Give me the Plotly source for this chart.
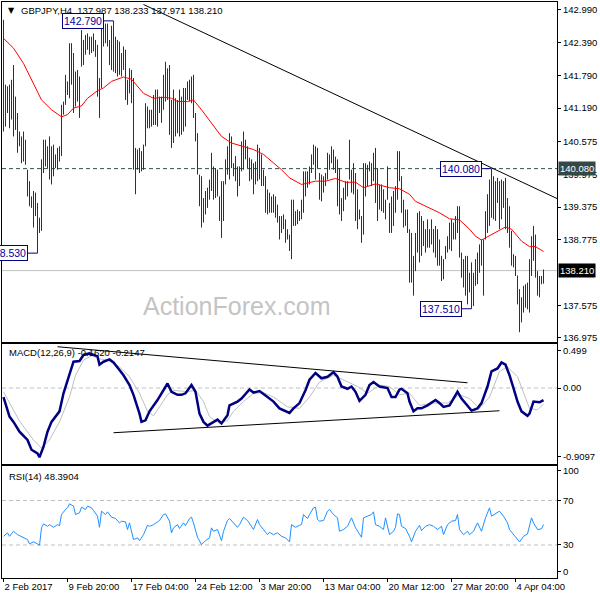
import plotly.graph_objects as go
from plotly.subplots import make_subplots

# GBPJPY H4, bar index 0 = 2 Feb 2017 12:00 (one index per 4h bar)
bar_high = [
    142.81, 141.62, 141.59, 141.62, 141.71, 141.98, 141.40, 141.10, 140.76, 140.67,
    140.76, 140.61, 140.06, 139.85, 139.57, 139.67, 139.64, 139.45, 139.18, 140.25,
    140.61, 140.61, 140.49, 140.67, 140.49, 140.52, 140.34, 140.46, 140.49, 141.25,
    141.31, 141.80, 141.68, 142.38, 142.38, 142.20, 141.86, 141.89, 141.77, 142.62,
    142.44, 142.53, 142.56, 142.50, 142.50, 142.56, 142.44, 142.35, 141.74, 142.71,
    142.74, 142.74, 142.74, 142.44, 142.70, 142.79, 142.50, 142.44, 142.41, 142.20,
    142.32, 142.26, 141.71, 141.92, 141.89, 141.74, 140.46, 140.43, 140.46, 140.40,
    140.52, 141.28, 141.22, 141.16, 141.16, 141.43, 141.53, 141.53, 141.40, 141.40,
    141.80, 142.04, 141.92, 141.98, 141.34, 141.53, 141.37, 141.34, 141.53, 141.40,
    141.56, 141.56, 141.68, 141.71, 141.77, 141.80, 141.10, 140.73, 139.97, 139.94,
    139.54, 139.67, 139.73, 139.88, 140.37, 140.12, 140.09, 140.06, 139.57, 139.85,
    139.85, 140.25, 140.49, 140.73, 140.67, 140.18, 140.31, 140.12, 140.12, 140.58,
    140.76, 140.61, 140.49, 140.28, 140.25, 140.18, 140.21, 140.52, 140.46, 140.34,
    140.06, 139.94, 139.70, 139.64, 139.57, 139.61, 139.57, 139.42, 139.21, 139.21,
    139.24, 139.15, 138.97, 138.87, 139.51, 139.51, 139.30, 139.33, 139.30, 139.51,
    140.03, 140.03, 140.03, 140.12, 140.34, 140.52, 140.49, 140.46, 140.00, 139.97,
    139.94, 140.00, 140.37, 140.34, 140.49, 140.43, 140.30, 140.25, 140.09, 139.54,
    139.73, 139.85, 139.85, 140.61, 140.06, 140.18, 140.00, 139.70, 139.33, 139.21,
    140.18, 140.18, 140.15, 140.21, 140.18, 140.37, 140.46, 140.09, 139.79, 139.79,
    139.70, 139.51, 140.12, 139.45, 139.57, 139.67, 139.76, 140.40, 140.40, 139.94,
    139.51, 139.33, 139.33, 138.97, 138.90, 138.48, 138.90, 139.27, 139.30, 139.21,
    139.12, 138.97, 139.15, 138.97, 139.15, 138.97, 139.03, 138.97, 138.78, 138.48,
    138.42, 138.66, 138.84, 139.09, 139.15, 139.09, 139.21, 139.39, 139.39, 138.54,
    138.42, 138.48, 138.48, 138.17, 138.36, 138.17, 138.42, 138.54, 138.69, 138.78,
    138.78, 139.30, 139.61, 139.88, 140.08, 139.94, 139.85, 139.91, 139.85, 139.88,
    139.85, 139.91, 139.54, 139.39, 138.94, 138.51, 138.48, 138.12, 137.87, 137.72,
    137.93, 137.96, 137.99, 138.42, 138.84, 139.03, 138.87, 138.20, 138.11, 138.11,
    138.23,
]
bar_low = [
    140.76, 140.85, 141.10, 140.82, 140.98, 140.67, 140.79, 140.37, 140.49, 140.18,
    140.21, 140.15, 139.57, 139.39, 139.36, 139.00, 139.21, 138.53, 138.90, 138.94,
    140.00, 140.12, 140.09, 139.88, 139.79, 139.94, 140.09, 140.06, 140.21, 140.31,
    141.07, 141.25, 141.43, 141.37, 141.62, 141.10, 141.22, 141.31, 141.01, 141.95,
    141.98, 142.17, 142.26, 142.17, 142.20, 142.23, 142.13, 141.40, 141.01, 141.56,
    142.32, 142.38, 142.32, 141.98, 141.89, 141.86, 141.83, 141.77, 141.80, 141.77,
    141.89, 141.34, 141.25, 141.46, 141.28, 140.06, 139.61, 140.06, 140.00, 140.03,
    140.06, 140.49, 140.82, 140.82, 140.85, 140.88, 140.88, 140.85, 141.10, 140.92,
    141.16, 141.31, 141.34, 140.70, 140.46, 140.55, 140.67, 140.73, 140.67, 140.70,
    140.76, 140.85, 141.34, 141.31, 141.28, 141.01, 140.58, 139.97, 139.39, 139.00,
    139.09, 139.24, 139.36, 139.51, 139.67, 139.51, 139.54, 139.57, 139.12, 138.81,
    139.12, 139.79, 139.97, 139.88, 140.09, 139.94, 139.85, 139.57, 139.76, 140.03,
    140.06, 140.25, 140.09, 139.85, 139.88, 139.61, 139.79, 139.85, 139.88, 139.76,
    139.76, 139.27, 139.24, 139.27, 139.27, 139.27, 139.18, 139.09, 138.78, 138.90,
    138.97, 138.72, 138.78, 138.57, 138.42, 139.03, 139.03, 139.06, 139.12, 139.15,
    139.27, 139.57, 139.73, 139.79, 140.00, 140.15, 139.88, 140.09, 139.51, 139.48,
    139.64, 139.76, 139.88, 140.06, 140.18, 140.06, 140.00, 139.39, 139.24, 139.12,
    139.30, 139.51, 139.57, 139.88, 139.64, 139.61, 139.12, 138.97, 139.15, 138.72,
    138.87, 139.57, 139.76, 140.03, 139.76, 139.85, 139.45, 139.12, 139.33, 139.30,
    139.27, 139.15, 139.51, 138.90, 138.90, 139.03, 139.27, 139.51, 139.85, 139.27,
    139.00, 139.03, 138.90, 137.99, 137.99, 137.75, 138.20, 138.54, 138.36, 138.48,
    138.66, 138.54, 138.63, 138.63, 138.69, 138.54, 138.45, 138.30, 138.30, 138.02,
    138.05, 138.42, 138.54, 138.60, 138.57, 138.78, 138.78, 138.90, 138.45, 138.08,
    137.90, 137.75, 137.59, 137.81, 137.51, 137.56, 137.93, 137.96, 138.17, 138.30,
    137.75, 138.78, 138.90, 139.03, 139.18, 139.15, 139.12, 139.45, 138.97, 139.15,
    139.36, 138.97, 138.90, 138.63, 138.30, 138.27, 138.11, 137.59, 137.08, 137.26,
    137.44, 137.53, 137.50, 137.44, 138.11, 138.39, 138.08, 137.75, 137.72, 137.96,
    137.97,
]

# moving average (red)
ma_idx = [0, 5, 10, 15, 19, 24, 29, 32, 35, 39, 42, 47, 50, 54, 57, 60, 64, 67, 70, 75,
          80, 84, 87, 92, 95, 99, 104, 109, 114, 119, 125, 130, 135, 139, 143, 149, 156, 161, 166, 171,
          176, 180, 186, 193, 198, 203, 206, 213, 218, 223, 228, 233, 236, 239, 244, 251, 254, 259, 263, 266,
          270]
ma_val = [142.47, 142.29, 142.01, 141.65, 141.34, 141.16, 141.03, 141.07, 141.19, 141.23,
          141.37, 141.51, 141.56, 141.68, 141.72, 141.76, 141.72, 141.59, 141.46, 141.37,
          141.39, 141.37, 141.31, 141.31, 141.34, 141.16, 140.92, 140.67, 140.55, 140.49,
          140.43, 140.34, 140.18, 140.06, 139.91, 139.79, 139.85, 139.85, 139.90, 139.83,
          139.83, 139.73, 139.80, 139.73, 139.71, 139.61, 139.48, 139.36, 139.27, 139.16,
          139.14, 138.97, 138.84, 138.77, 138.87, 139.01, 138.97, 138.75, 138.65, 138.65,
          138.56]

trend_idx = [70, 278]
trend_val = [143.09, 139.51]

# MACD(12,26,9)
macd_idx = [0, 3, 5, 8, 12, 14, 17, 18, 20, 22, 24, 28, 30, 33, 35, 38, 40, 43, 45, 47,
            48, 50, 53, 55, 58, 60, 63, 65, 68, 69, 71, 73, 77, 80, 82, 84, 87, 89, 91, 94,
            96, 98, 100, 102, 104, 107, 109, 112, 113, 117, 119, 123, 125, 128, 132, 135, 138, 143, 145, 148,
            151, 153, 156, 159, 162, 165, 167, 169, 172, 174, 176, 178, 181, 183, 185, 188, 192, 194, 196, 198,
            199, 202, 203, 205, 207, 209, 212, 214, 216, 218, 220, 223, 225, 227, 229, 232, 234, 237, 239, 242,
            244, 247, 249, 251, 253, 255, 257, 259, 262, 263, 265, 268, 270]
macd_val = [-0.12, -0.38, -0.45, -0.58, -0.69, -0.82, -0.87, -0.92, -0.78, -0.58,
            -0.45, -0.31, -0.07, 0.20, 0.35, 0.36, 0.44, 0.46, 0.44, 0.42,
            0.31, 0.35, 0.38, 0.34, 0.24, 0.17, 0.04, -0.09, -0.34, -0.45,
            -0.43, -0.31, -0.16, -0.03, 0.06, -0.05, -0.09, -0.09, -0.07, 0.04,
            -0.05, -0.34, -0.45, -0.50, -0.47, -0.42, -0.47, -0.36, -0.23, -0.18,
            -0.14, -0.02, -0.06, -0.04, -0.12, -0.18, -0.27, -0.33, -0.27, -0.20,
            -0.03, 0.11, 0.20, 0.13, 0.15, 0.21, 0.15, 0.02, -0.01, 0.02,
            -0.05, -0.17, -0.09, 0.04, 0.08, 0.02, 0.00, -0.12, -0.12, -0.02,
            -0.01, -0.07, -0.18, -0.31, -0.27, -0.27, -0.23, -0.20, -0.16, -0.20,
            -0.25, -0.23, -0.14, -0.05, -0.14, -0.23, -0.30, -0.27, -0.20, 0.02,
            0.22, 0.26, 0.34, 0.31, 0.17, 0.00, -0.18, -0.31, -0.37, -0.34,
            -0.18, -0.19, -0.16]
signal_idx = [0, 8, 15, 19, 23, 28, 33, 36, 40, 44, 48, 53, 58, 63, 68, 72, 75, 78, 82, 85,
              92, 96, 100, 103, 108, 112, 115, 120, 125, 130, 135, 142, 148, 153, 158, 165, 170, 177, 182, 188,
              193, 198, 203, 208, 215, 222, 228, 233, 238, 243, 248, 252, 257, 260, 263, 267, 270]
signal_val = [-0.05, -0.44, -0.69, -0.80, -0.69, -0.45, -0.12, 0.17, 0.37, 0.43,
              0.39, 0.36, 0.28, 0.15, -0.07, -0.31, -0.37, -0.25, -0.09, -0.03,
              -0.05, -0.03, -0.18, -0.38, -0.47, -0.43, -0.31, -0.18, -0.07, -0.06,
              -0.12, -0.25, -0.27, -0.12, 0.08, 0.17, 0.11, 0.02, -0.07, 0.04,
              0.02, -0.09, -0.07, -0.23, -0.20, -0.20, -0.09, -0.14, -0.27, -0.12,
              0.22, 0.28, 0.15, -0.07, -0.27, -0.29, -0.21]
macd_upper_idx = [27, 232]
macd_upper_val = [0.549, 0.070]
macd_lower_idx = [55, 248]
macd_lower_val = [-0.594, -0.302]

# RSI(14)
rsi_idx = [0, 2, 3, 5, 7, 10, 12, 13, 15, 17, 18, 19, 20, 22, 23, 25, 27, 28, 29, 31,
           32, 33, 35, 36, 38, 39, 41, 42, 44, 45, 47, 48, 49, 51, 52, 54, 56, 58, 59, 61,
           62, 63, 65, 67, 68, 70, 72, 73, 75, 77, 78, 80, 81, 83, 84, 85, 87, 88, 90, 91,
           93, 94, 95, 97, 98, 99, 101, 103, 104, 105, 107, 109, 110, 112, 113, 115, 117, 118, 120, 122,
           123, 125, 127, 128, 130, 132, 133, 135, 137, 139, 141, 143, 144, 146, 148, 149, 150, 152, 153, 155,
           156, 157, 158, 160, 162, 163, 165, 167, 168, 170, 172, 173, 174, 176, 178, 179, 180, 182, 184, 185,
           186, 188, 190, 191, 193, 195, 196, 197, 198, 199, 201, 203, 204, 206, 208, 209, 211, 213, 215, 217,
           219, 220, 222, 224, 226, 227, 228, 230, 232, 233, 235, 237, 239, 241, 243, 244, 247, 248, 250, 252,
           253, 256, 258, 260, 262, 264, 265, 267, 269, 270]
rsi_val = [37.8, 40.9, 37.8, 42.3, 39.3, 36.9, 34.8, 31.0, 32.8, 31.0, 29.7, 45.4, 49.0, 46.8, 48.3, 45.9, 48.3, 47.4, 57.4, 61.9,
           63.4, 67.0, 65.0, 57.4, 58.9, 64.0, 61.9, 64.9, 63.4, 61.0, 55.9, 45.9, 60.4, 57.4, 59.8, 55.0, 53.8, 49.9, 51.4, 50.8,
           43.9, 49.9, 34.8, 36.4, 33.9, 39.3, 47.7, 46.8, 48.3, 50.8, 52.0, 57.4, 58.0, 51.4, 40.9, 45.4, 48.3, 44.8, 49.9, 47.4,
           53.8, 55.0, 49.9, 36.9, 33.3, 30.3, 33.9, 36.4, 45.4, 42.3, 43.9, 33.9, 42.3, 52.0, 53.8, 49.9, 45.9, 48.3, 55.0, 52.0,
           48.9, 43.9, 52.9, 48.3, 43.9, 39.3, 41.4, 39.3, 40.9, 37.8, 36.4, 32.8, 48.3, 45.9, 47.7, 48.3, 57.4, 53.8, 57.4, 63.4,
           64.0, 52.9, 51.4, 52.0, 60.4, 61.9, 57.4, 54.4, 42.3, 43.9, 46.8, 51.4, 54.4, 45.4, 39.3, 36.9, 54.4, 55.9, 57.4, 59.8,
           48.3, 46.8, 43.9, 54.4, 39.3, 42.3, 45.9, 58.0, 57.4, 46.8, 44.8, 37.8, 32.8, 42.3, 47.7, 42.9, 46.8, 48.3, 46.8, 43.9,
           46.8, 39.3, 48.3, 51.4, 52.0, 57.4, 43.9, 39.3, 42.3, 39.3, 42.3, 49.9, 42.3, 54.4, 63.4, 55.9, 58.9, 60.4, 55.9, 49.9,
           43.9, 37.8, 32.8, 37.8, 39.9, 54.4, 49.9, 43.9, 44.5, 48.4]

time_idx = [0, 32, 64, 96, 128, 160, 192, 224, 256]
time_lbl = ["2 Feb 2017", "9 Feb 20:00", "17 Feb 04:00", "24 Feb 12:00", "3 Mar 20:00",
            "13 Mar 04:00", "20 Mar 12:00", "27 Mar 20:00", "4 Apr 04:00"]

price_ticks = [142.99, 142.39, 141.79, 141.19, 140.575, 139.975, 139.375, 138.775, 137.575, 136.975]

# labelled highs / lows
mark_idx = [17, 55, 234, 244]
mark_val = [138.53, 142.79, 137.51, 140.08]

last_price = 138.21
level_price = 140.08

FONT = "Liberation Sans"
BAR_COLOR = "#0E3A55"

fig = make_subplots(rows=3, cols=1, shared_xaxes=True, vertical_spacing=0.0)

seg_x, seg_y = [], []
for i, (h, l) in enumerate(zip(bar_high, bar_low)):
    seg_x += [i, i, None]
    seg_y += [l, h, None]
fig.add_trace(go.Scatter(x=seg_x, y=seg_y, mode="lines",
                         line=dict(color=BAR_COLOR, width=1)), row=1, col=1)
fig.add_trace(go.Scatter(x=ma_idx, y=ma_val, mode="lines",
                         line=dict(color="#FF0000", width=1)), row=1, col=1)
fig.add_trace(go.Scatter(x=trend_idx, y=trend_val, mode="lines",
                         line=dict(color="black", width=1)), row=1, col=1)

# MACD
fig.add_trace(go.Scatter(x=signal_idx, y=signal_val, mode="lines",
                         line=dict(color="#C0C0C0", width=1)), row=2, col=1)
fig.add_trace(go.Scatter(x=macd_idx, y=macd_val, mode="lines",
                         line=dict(color="#000080", width=2.5)), row=2, col=1)
fig.add_trace(go.Scatter(x=macd_upper_idx, y=macd_upper_val, mode="lines",
                         line=dict(color="black", width=1)), row=2, col=1)
fig.add_trace(go.Scatter(x=macd_lower_idx, y=macd_lower_val, mode="lines",
                         line=dict(color="black", width=1)), row=2, col=1)

# RSI
fig.add_trace(go.Scatter(x=rsi_idx, y=rsi_val, mode="lines",
                         line=dict(color="#1E90FF", width=1)), row=3, col=1)

# horizontal levels
fig.add_shape(type="line", xref="x domain", yref="y", x0=0, x1=1, y0=level_price, y1=level_price,
              line=dict(color="#2F4F4F", width=1, dash="4px,3px"), layer="below")
fig.add_shape(type="line", xref="x domain", yref="y", x0=0, x1=1, y0=last_price, y1=last_price,
              line=dict(color="#C0C0C0", width=1), layer="below")
fig.add_shape(type="line", xref="x2 domain", yref="y2", x0=0, x1=1, y0=0, y1=0,
              line=dict(color="#C0C0C0", width=1, dash="4px,3px"), layer="below")
for lv in (70, 30):
    fig.add_shape(type="line", xref="x3 domain", yref="y3", x0=0, x1=1, y0=lv, y1=lv,
                  line=dict(color="#C0C0C0", width=1, dash="4px,3px"), layer="below")

# price marks with boxes
for bi, v in zip(mark_idx, mark_val):
    fig.add_shape(type="line", xref="x", yref="y", x0=bi - 5, x1=bi, y0=v, y1=v,
                  line=dict(color="#000080", width=1))
    fig.add_annotation(x=bi - 5, y=v, xref="x", yref="y", text=f"{v:.3f}", showarrow=False,
                       xanchor="right", yanchor="middle", bgcolor="white", bordercolor="#000080",
                       borderwidth=1, borderpad=1, font=dict(family=FONT, size=10.5, color="#0000A0"))

# right-axis highlighted prices
fig.add_annotation(x=1, y=level_price, xref="paper", yref="y", text=f"{level_price:.3f}",
                   showarrow=False, xanchor="left", yanchor="middle", xshift=1,
                   bgcolor="#344848", borderpad=1, font=dict(family=FONT, size=9.5, color="white"))
fig.add_annotation(x=1, y=last_price, xref="paper", yref="y", text=f"{last_price:.3f}",
                   showarrow=False, xanchor="left", yanchor="middle", xshift=1,
                   bgcolor="black", borderpad=1, font=dict(family=FONT, size=9.5, color="white"))

# panel captions
fig.add_annotation(x=0.008, y=0.986, xref="paper", yref="paper", text="▼",
                   showarrow=False, xanchor="left", yanchor="middle",
                   font=dict(family="DejaVu Sans", size=8, color="black"))
fig.add_annotation(x=0.03, y=0.986, xref="paper", yref="paper",
                   text="GBPJPY,H4  137.987 138.233 137.971 138.210",
                   showarrow=False, xanchor="left", yanchor="middle",
                   font=dict(family=FONT, size=9.5, color="black"))
fig.add_annotation(x=0.009, y=0.392, xref="paper", yref="paper",
                   text="MACD(12,26,9) -0.1620 -0.2147",
                   showarrow=False, xanchor="left", yanchor="middle",
                   font=dict(family=FONT, size=9.5, color="black"))
fig.add_annotation(x=0.009, y=0.177, xref="paper", yref="paper",
                   text="RSI(14) 48.3904",
                   showarrow=False, xanchor="left", yanchor="middle",
                   font=dict(family=FONT, size=9.5, color="black"))
fig.add_annotation(x=0.423, y=0.472, xref="paper", yref="paper", text="ActionForex.com",
                   showarrow=False, xanchor="center", yanchor="middle",
                   font=dict(family=FONT, size=25, color="#C4C4C4"))

axis_common = dict(showline=True, mirror=True, linecolor="black", linewidth=1,
                   showgrid=False, zeroline=False, fixedrange=True)
tick_font = dict(family=FONT, size=9.5, color="black")

# range offset by a quarter bar so 1px bars sit on whole pixels
fig.update_xaxes(range=[-0.75, 276.75], **axis_common)
fig.update_xaxes(showticklabels=False, ticks="", row=1, col=1)
fig.update_xaxes(showticklabels=False, ticks="", row=2, col=1)
fig.update_xaxes(tickvals=time_idx, ticktext=time_lbl, ticks="outside", ticklen=3,
                 tickcolor="black", ticklabelposition="outside right", tickangle=0,
                 tickfont=tick_font, row=3, col=1)

fig.update_yaxes(side="right", ticks="outside", ticklen=3, tickcolor="black",
                 tickfont=tick_font, **axis_common)
fig.update_yaxes(domain=[0.4097, 1.0], range=[136.90, 143.136], tickvals=price_ticks,
                 ticktext=[f"{v:.3f}" for v in price_ticks], row=1, col=1)
fig.update_yaxes(domain=[0.1979, 0.4062], range=[-1.01, 0.585], tickvals=[0.499, 0.0, -0.9097],
                 ticktext=["0.499", "0.00", "-0.9097"], row=2, col=1)
fig.update_yaxes(domain=[0.0, 0.1944], range=[0.3, 101], tickvals=[97, 70, 30, 6],
                 ticktext=["100", "70", "30", "0"], row=3, col=1)

fig.update_layout(width=600, height=600, showlegend=False, template="none",
                  margin=dict(l=2, r=43, t=2, b=22),
                  plot_bgcolor="white", paper_bgcolor="white",
                  font=dict(family=FONT, size=9.5, color="black"))

fig.write_html("out.html", config={"displayModeBar": False},
               post_script="document.body.style.margin='0';document.body.style.overflow='hidden';")
